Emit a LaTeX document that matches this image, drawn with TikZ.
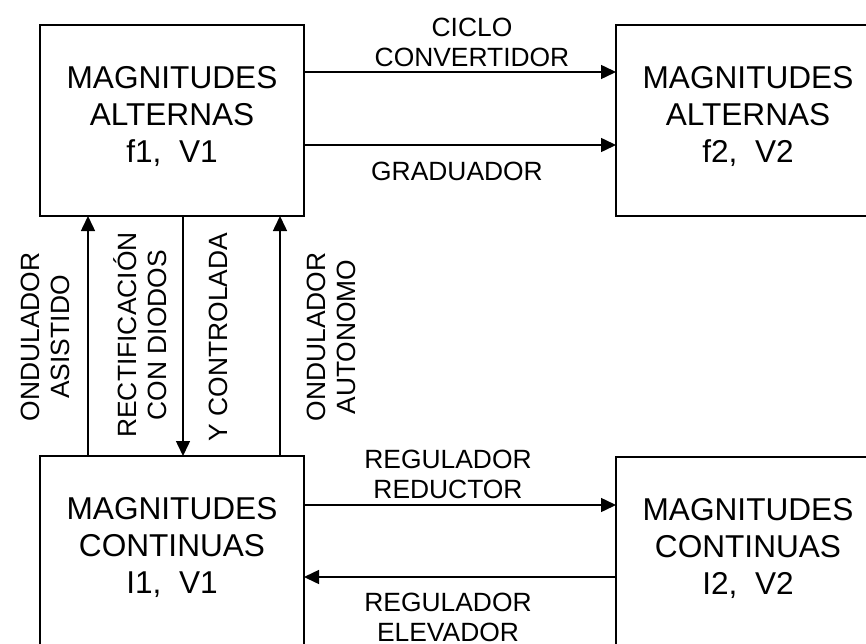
\documentclass[tikz,border=0pt]{standalone}
\usepackage{fontspec}
\setmainfont{Liberation Sans}
\usetikzlibrary{arrows.meta}
\begin{document}
\begin{tikzpicture}[x=1pt,y=-1pt,
  blk/.style={draw,line width=1.8pt,minimum width=264pt,minimum height=191pt,inner sep=0pt,outer sep=0pt},
  blktext/.style={align=center,inner sep=0pt,font=\fontsize{31.6}{37}\selectfont},
  lbl/.style={align=center,inner sep=0pt,font=\fontsize{26.4}{30}\selectfont},
  arr/.style={line width=1.5pt,-{Triangle[length=15pt,width=14pt]}}]
\useasboundingbox (0,0) rectangle (866,644);
\clip (0,0) rectangle (866,644);

% blocks
\node[blk] (ta) at (172,120.5) {};
\node[blk] (tb) at (748,120.5) {};
\node[blk] (ca) at (172,551.5) {};
\node[blk] (cb) at (748,552.5) {};

\node[blktext] (tatxt) at ([yshift=4pt]ta.center) {MAGNITUDES\\ALTERNAS\\f1,\ \ V1};
\node[blktext] (tbtxt) at ([yshift=4pt]tb.center) {MAGNITUDES\\ALTERNAS\\f2,\ \ V2};
\node[blktext] (catxt) at ([yshift=4pt]ca.center) {MAGNITUDES\\CONTINUAS\\I1,\ \ V1};
\node[blktext] (cbtxt) at ([yshift=4pt]cb.center) {MAGNITUDES\\CONTINUAS\\I2,\ \ V2};

% AC -> AC
\draw[arr] (ta.east |- 0,72) -- (tb.west |- 0,72);
\draw[arr] (ta.east |- 0,145) -- (tb.west |- 0,145);
\node[lbl] (ciclo) at (472,42) {CICLO\\CONVERTIDOR};
\node[lbl] (grad) at (457,171) {GRADUADOR};

% DC <-> DC
\draw[arr] (ca.east |- 0,505) -- (cb.west |- 0,505);
\draw[arr] (cb.west |- 0,577) -- (ca.east |- 0,577);
\node[lbl] (reduc) at (448,474) {REGULADOR\\REDUCTOR};
\node[lbl] (elev) at (448,617) {REGULADOR\\ELEVADOR};

% AC <-> DC
\draw[arr] (ca.north -| 88,0) -- (ta.south -| 88,0);
\draw[arr] (ta.south -| 183,0) -- (ca.north -| 183,0);
\draw[arr] (ca.north -| 280,0) -- (ta.south -| 280,0);
\node[lbl,rotate=90] (asist) at (45.5,337) {ONDULADOR\\ASISTIDO};
\node[lbl,rotate=90] (rect) at (140,335) {RECTIFICACIÓN\\CON DIODOS};
\node[lbl,rotate=90] (ctrl) at (218,337) {Y CONTROLADA};
\node[lbl,rotate=90] (auton) at (331.5,337) {ONDULADOR\\AUTONOMO};
\end{tikzpicture}
\end{document}
